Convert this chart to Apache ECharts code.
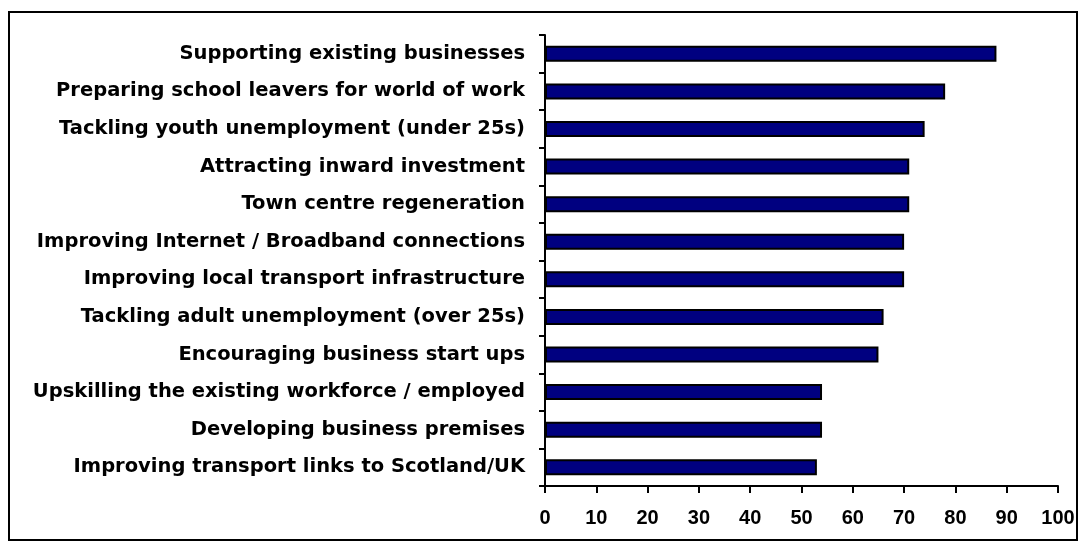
<!DOCTYPE html>
<html>
<head>
<meta charset="utf-8">
<title>Priorities</title>
<script src="https://cdn.jsdelivr.net/npm/echarts@6/dist/echarts.min.js"></script>
<style>
	html, body { margin: 0; padding: 0; background: #fff; }
	#chart { width: 1086px; height: 552px; }
</style>
</head>
<body>
<div id="chart"></div>
<script>
// categories, top to bottom as in the picture
const categories = [
	'Supporting existing businesses',
	'Preparing school leavers for world of work',
	'Tackling youth unemployment (under 25s)',
	'Attracting inward investment',
	'Town centre regeneration',
	'Improving Internet / Broadband connections',
	'Improving local transport infrastructure',
	'Tackling adult unemployment (over 25s)',
	'Encouraging business start ups',
	'Upskilling the existing workforce / employed',
	'Developing business premises',
	'Improving transport links to Scotland/UK'
];
const values = [88, 78, 74, 71, 71, 70, 70, 66, 65, 54, 54, 53];
const xTicks = [0, 100, 10]; // min, max, step

let chart = echarts.init(document.getElementById('chart'), null, { renderer: 'canvas' });

let option = {
	animation: false,
	backgroundColor: '#fff',
	graphic: [
		{
			type: 'rect',
			shape: { x: 9, y: 12, width: 1068, height: 528 },
			style: { fill: 'none', stroke: '#000', lineWidth: 2 },
			z: 0
		}
	],
	grid: {
		left: 545,
		right: 28,
		top: 35,
		bottom: 66,
		containLabel: false
	},
	xAxis: {
		type: 'value',
		position: 'bottom',
		min: xTicks[0],
		max: xTicks[1],
		interval: xTicks[2],
		axisLine: { show: true, lineStyle: { color: '#000', width: 2 } },
		axisTick: { show: true, length: 7, lineStyle: { color: '#000', width: 2 } },
		splitLine: { show: false },
		axisLabel: {
			margin: 22,
			color: '#000',
			fontFamily: 'Liberation Sans, Arial, sans-serif',
			fontWeight: 'bold',
			fontSize: 20
		}
	},
	yAxis: {
		type: 'category',
		inverse: true,
		data: categories,
		axisLine: { show: true, lineStyle: { color: '#000', width: 2 } },
		axisTick: { show: true, length: 6, lineStyle: { color: '#000', width: 2 } },
		splitLine: { show: false },
		axisLabel: {
			margin: 20,
			color: '#000',
			fontFamily: 'DejaVu Sans, sans-serif',
			fontWeight: 'bold',
			fontSize: 19.5
		}
	},
	series: [
		{
			type: 'bar',
			data: values,
			barWidth: 16,
			itemStyle: {
				color: '#000080',
				borderColor: '#000',
				borderWidth: 2
			}
		}
	]
};

chart.setOption(option);
</script>
</body>
</html>
